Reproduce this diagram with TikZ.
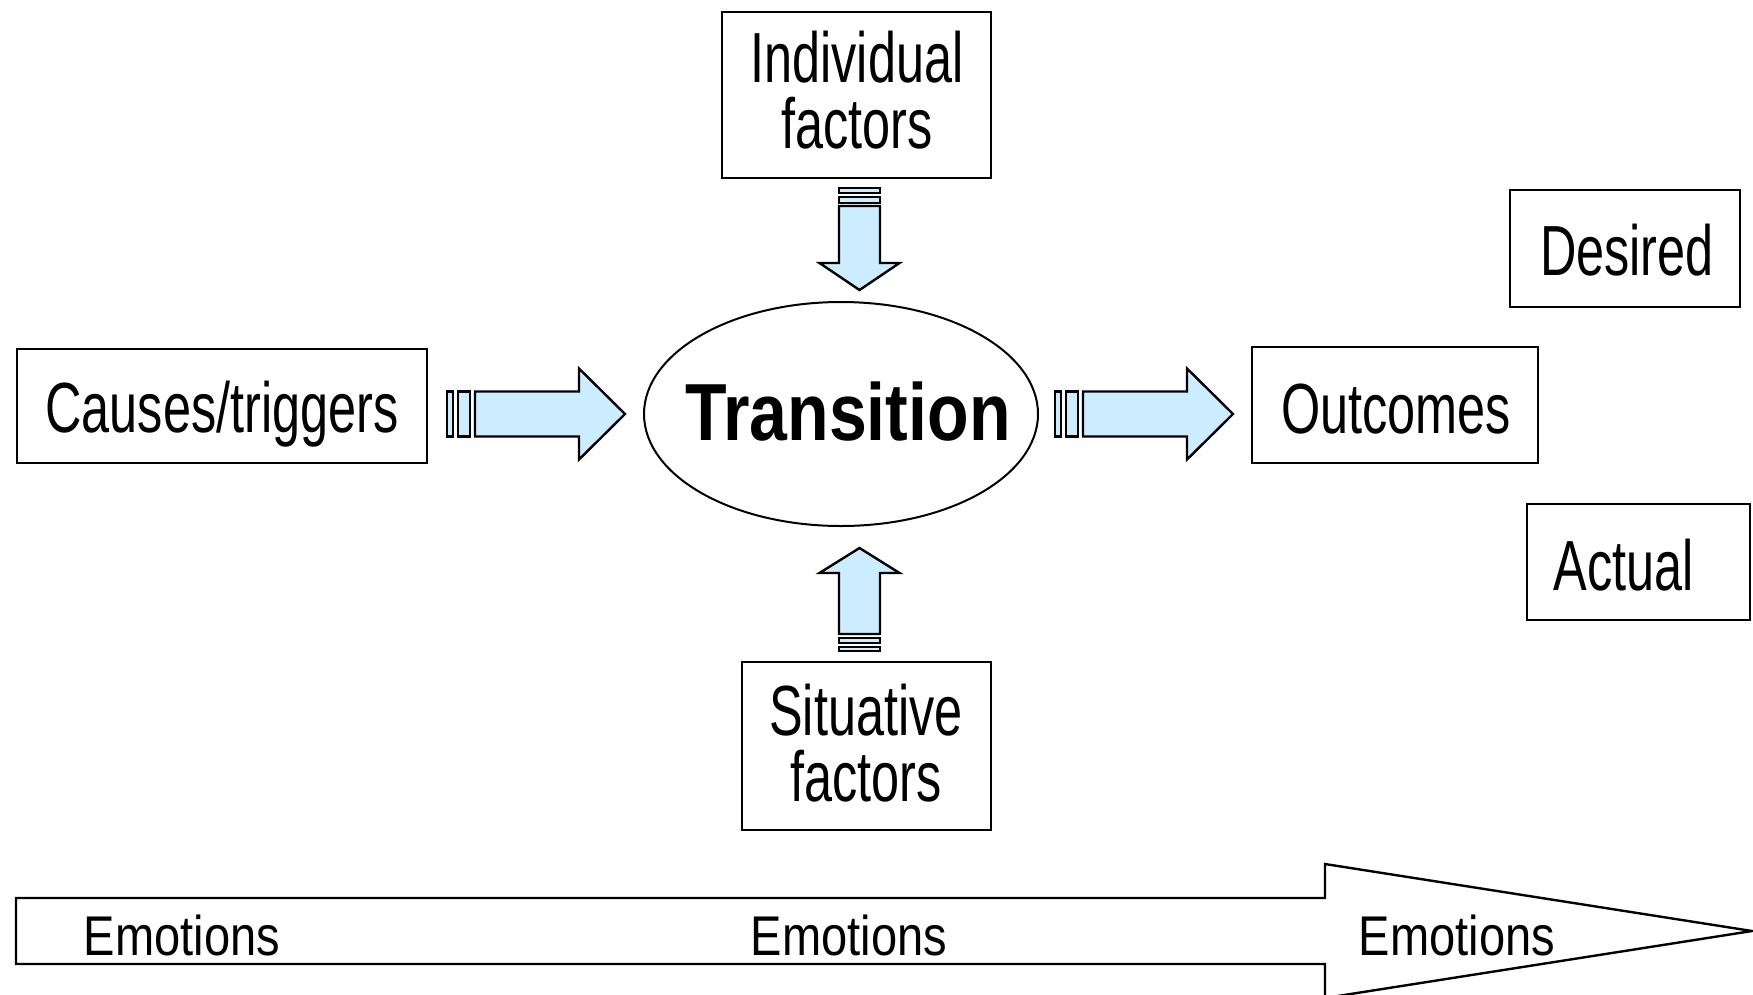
\documentclass[tikz,border=0pt]{standalone}
\usepackage{fontspec}
\setmainfont{Liberation Sans}
\newfontfamily\narrowfont[FakeStretch=0.71]{Liberation Sans}
\newfontfamily\widefont[FakeStretch=0.84]{Liberation Sans}
\usetikzlibrary{shapes.geometric}
\definecolor{arrowblue}{RGB}{204,236,255}
\begin{document}
\begin{tikzpicture}[x=1pt,y=-1pt,
  box/.style={draw=black,line width=2pt,fill=white,inner sep=0pt},
  lbl/.style={anchor=base,inner sep=0pt,font=\narrowfont\fontsize{71}{71}\selectfont},
  emo/.style={anchor=base,inner sep=0pt,font=\widefont\fontsize{56}{56}\selectfont},
  blockarrow/.style={draw=black,line width=2.4pt,fill=arrowblue,line join=miter},
  bigarrow/.style={draw=black,line width=2.4pt,fill=white,line join=miter}]
\useasboundingbox (0,0) rectangle (1753,994);
\fill[white] (0,0) rectangle (1753,994);

% boxes
\node[box,minimum width=269pt,minimum height=166pt] (indiv) at (856.5,94.5) {};
\node[lbl] (indivA) at (857,82) {Individual};
\node[lbl] (indivB) at (857,148) {factors};

\node[box,minimum width=230pt,minimum height=117pt] (desired) at (1625,248) {};
\node[lbl] (desiredT) at (1627,275) {Desired};

\node[box,minimum width=410pt,minimum height=114pt] (causes) at (221.5,405.5) {};
\node[lbl] (causesT) at (222,432) {Causes/triggers};

\node[box,minimum width=286pt,minimum height=116pt] (outcomes) at (1395,405) {};
\node[lbl] (outcomesT) at (1396,433) {Outcomes};

\node[box,minimum width=223pt,minimum height=116pt] (actual) at (1638.5,562) {};
\node[lbl] (actualT) at (1624,590) {Actual};

\node[box,minimum width=249pt,minimum height=168pt] (situ) at (866.5,746) {};
\node[lbl] (situA) at (866,735) {Situative};
\node[lbl] (situB) at (866,801) {factors};

% ellipse
\node[draw=black,line width=2pt,ellipse,minimum width=394pt,minimum height=224pt,inner sep=0pt] (trans) at (841,414) {};
\node[anchor=base,inner sep=0pt,font=\widefont\bfseries\fontsize{81}{81}\selectfont] (transT) at (848,440) {Transition};

% horizontal striped arrows
\foreach \dx/\nm in {0/leftarrow,608/rightarrow}{
  \begin{scope}[xshift=\dx pt]
    \draw[blockarrow] (475,391.5) -- (579,391.5) -- (579,368.5) -- (625,414) -- (579,459.5) -- (579,436.5) -- (475,436.5) -- cycle;
    \draw[blockarrow] (447,391.5) rectangle (453,436.5);
    \draw[blockarrow] (458,391.5) rectangle (470,436.5);
  \end{scope}
}

% down arrow
\draw[blockarrow] (839,206) -- (880,206) -- (880,263) -- (899.5,263) -- (859.5,290) -- (819.5,263) -- (839,263) -- cycle;
\draw[blockarrow] (839,188) rectangle (880,193);
\draw[blockarrow] (839,197) rectangle (880,203);

% up arrow
\draw[blockarrow] (839,634) -- (880,634) -- (880,573) -- (899.5,573) -- (859.5,548) -- (819.5,573) -- (839,573) -- cycle;
\draw[blockarrow] (839,638) rectangle (880,643);
\draw[blockarrow] (839,647) rectangle (880,651);

% bottom big arrow
\draw[bigarrow] (16,898) -- (1325,898) -- (1325,864) -- (1752,931) -- (1325,998) -- (1325,964) -- (16,964) -- cycle;
\node[emo] (emo1) at (182,955) {Emotions};
\node[emo] (emo2) at (849,955) {Emotions};
\node[emo] (emo3) at (1457,955) {Emotions};
\end{tikzpicture}
\end{document}
